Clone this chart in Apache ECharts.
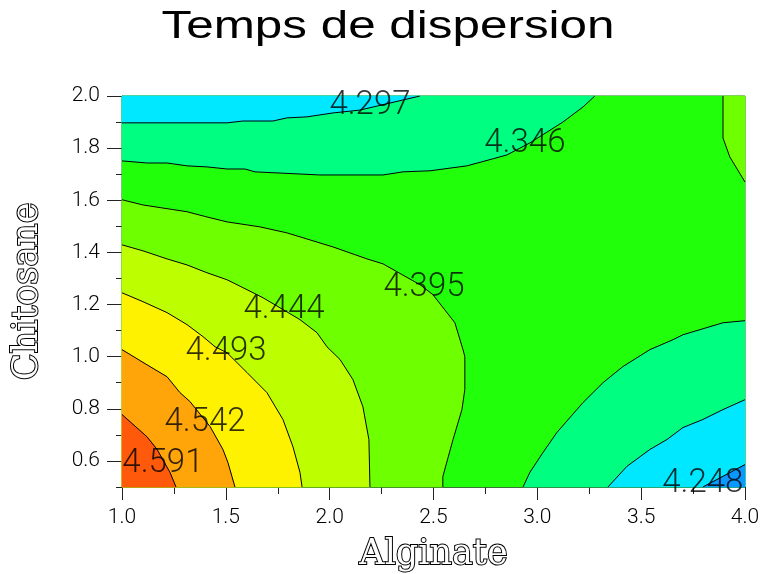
<!DOCTYPE html>
<html>
<head>
<meta charset="utf-8">
<script src="https://cdn.jsdelivr.net/npm/echarts@6/dist/echarts.min.js"></script>
<style>html,body{margin:0;padding:0;background:#fff}#c{width:766px;height:574px}</style>
</head>
<body>
<div id="c"></div>
<script>
// Axis ticks
const xTicks = [1.0, 1.5, 2.0, 2.5, 3.0, 3.5, 4.0];
const xMinorTicks = [1.25, 1.75, 2.25, 2.75, 3.25, 3.75];
const yTicks = [0.6, 0.8, 1.0, 1.2, 1.4, 1.6, 1.8, 2.0];
const yMinorTicks = [0.5, 0.7, 0.9, 1.1, 1.3, 1.5, 1.7, 1.9];

// Contour levels (labels)
const levels = ['4.248', '4.297', '4.346', '4.395', '4.444', '4.493', '4.542', '4.591'];

// Contour lines, [Alginate, Chitosane]
const c4297Top = [[1.0,1.897],[1.506,1.897],[1.583,1.904],[1.727,1.904],[1.794,1.916],[1.891,1.920],[2.016,1.935],[2.146,1.946],[2.435,2.0]];
const c4346Top = [[1.0,1.751],[1.120,1.743],[1.217,1.743],[1.313,1.732],[1.409,1.728],[1.506,1.720],[1.592,1.720],[1.640,1.709],[1.953,1.697],[2.257,1.697],[2.353,1.709],[2.483,1.713],[2.661,1.732],[2.786,1.759],[2.854,1.774],[2.964,1.820],[3.123,1.900],[3.220,1.958],[3.277,2.0]];
const c4395Right = [[3.894,2.0],[3.894,1.839],[3.927,1.766],[4.0,1.670]];
const c4395Main = [[1.0,1.602],[1.101,1.582],[1.313,1.556],[1.409,1.536],[1.506,1.517],[1.664,1.498],[1.794,1.475],[2.016,1.421],[2.180,1.375],[2.257,1.356],[2.435,1.276],[2.497,1.238],[2.603,1.130],[2.642,1.027],[2.651,1.000],[2.651,0.874],[2.637,0.797],[2.594,0.682],[2.545,0.540],[2.545,0.5]];
const c4444 = [[1.0,1.429],[1.101,1.406],[1.217,1.375],[1.313,1.352],[1.409,1.322],[1.506,1.295],[1.602,1.257],[1.679,1.226],[1.794,1.172],[1.857,1.142],[1.939,1.092],[1.987,1.038],[2.050,0.989],[2.112,0.912],[2.160,0.808],[2.189,0.682],[2.194,0.5]];
const c4493 = [[1.0,1.245],[1.101,1.211],[1.217,1.169],[1.313,1.123],[1.390,1.077],[1.448,1.038],[1.506,1.015],[1.602,0.939],[1.698,0.862],[1.775,0.759],[1.823,0.655],[1.857,0.556],[1.867,0.5]];
const c4542 = [[1.0,1.027],[1.120,0.969],[1.217,0.923],[1.279,0.862],[1.327,0.828],[1.424,0.732],[1.486,0.644],[1.510,0.594],[1.544,0.5]];
const c4591 = [[1.0,0.778],[1.120,0.693],[1.169,0.644],[1.231,0.556],[1.260,0.5]];
const c4346Low = [[4.0,1.138],[3.894,1.130],[3.701,1.084],[3.653,1.065],[3.542,1.027],[3.412,0.962],[3.316,0.900],[3.220,0.824],[3.094,0.709],[3.027,0.632],[2.964,0.556],[2.931,0.5]];
const c4297Low = [[4.0,0.835],[3.894,0.797],[3.797,0.759],[3.701,0.728],[3.624,0.682],[3.542,0.644],[3.431,0.579],[3.340,0.5]];
const c4248Low = [[4.0,0.586],[3.797,0.5]];

// Label anchors [Alginate, Chitosane, level]
const contourLabels = [[2.194,1.962,'4.297'],[2.940,1.816,'4.346'],[2.454,1.264,'4.395'],[1.780,1.180,'4.444'],[1.501,1.019,'4.493'],[1.400,0.747,'4.542'],[1.197,0.590,'4.591'],[3.797,0.513,'4.248']];

const X0 = 1.0, X1 = 4.0, Y0 = 0.5, Y1 = 2.0;
const col = {
  blue:'#0A98FF', cyan:'#00E8FF', spring:'#00FF80', green:'#22FF0A',
  yg:'#6EFF00', lyg:'#BDFF00', yellow:'#FFF200', orange:'#FFA50A', red:'#FF5A0C'
};
const layers = [
  {pts:[[X0,Y0],[X1,Y0],[X1,Y1],[X0,Y1]], color:col.green},
  {pts:c4395Main.concat([[X0,Y0]]), color:col.yg},
  {pts:c4444.concat([[X0,Y0]]), color:col.lyg},
  {pts:c4493.concat([[X0,Y0]]), color:col.yellow},
  {pts:c4542.concat([[X0,Y0]]), color:col.orange},
  {pts:c4591.concat([[X0,Y0]]), color:col.red},
  {pts:c4346Top.concat([[X0,Y1]]), color:col.spring},
  {pts:c4297Top.concat([[X0,Y1]]), color:col.cyan},
  {pts:c4395Right.concat([[X1,Y1]]), color:col.yg},
  {pts:c4346Low.concat([[X1,Y0]]), color:col.spring},
  {pts:c4297Low.concat([[X1,Y0]]), color:col.cyan},
  {pts:c4248Low.concat([[X1,Y0]]), color:col.blue}
];
const lines = [c4297Top, c4346Top, c4395Right, c4395Main, c4444, c4493, c4542, c4591, c4346Low, c4297Low, c4248Low];

const tickFont = {fontFamily:'Roboto', fontWeight:300, fontSize:21, color:'#000'};
const nameFont = {fontFamily:'DejaVu Serif', fontSize:35, color:'#fff', textBorderColor:'#000', textBorderWidth:2};

const chart = echarts.init(document.getElementById('c'), null, {renderer:'canvas'});
const series = [{
  type:'custom', silent:true, z:1,
  data: layers.map((l,i)=>[i]),
  renderItem:(params, api)=>{
    const L = layers[params.dataIndex];
    return {type:'polygon', shape:{points:L.pts.map(p=>api.coord(p))}, style:{fill:L.color, stroke:L.color, lineWidth:0.5}};
  }
}];
lines.forEach(d=>series.push({type:'line', data:d, symbol:'none', silent:true, z:3,
  lineStyle:{color:'#000', width:1}}));
series.push({type:'scatter', data:contourLabels, symbolSize:0, silent:true, z:5,
  label:{show:true, position:'inside', formatter:p=>p.value[2], fontFamily:'Roboto', fontWeight:300, fontSize:33, color:'#000'}});

chart.setOption({
  animation:false,
  graphic:[{type:'text', x:388, y:9, scaleX:1.3, z:10,
    style:{text:'Temps de dispersion', fontFamily:'Liberation Sans', fontSize:38, fill:'#000', textAlign:'center', textVerticalAlign:'top'}}],
  grid:{left:122, top:96, width:623, height:391, show:true, borderColor:'#555', borderWidth:1, backgroundColor:'transparent', outerBoundsMode:'none', containLabel:false},
  xAxis:[{type:'value', min:X0, max:X1, position:'bottom',
    name:'Alginate', nameLocation:'middle', nameGap:50, nameTextStyle:nameFont,
    axisLine:{show:true, lineStyle:{color:'#444', width:1}},
    axisTick:{show:true, length:13, customValues:xTicks, lineStyle:{color:'#222'}},
    axisLabel:{show:true, customValues:xTicks, margin:20, formatter:v=>v.toFixed(1), ...tickFont},
    splitLine:{show:false}},
   {type:'value', min:X0, max:X1, position:'bottom', gridIndex:0,
    axisLine:{show:false}, axisLabel:{show:false}, splitLine:{show:false},
    axisTick:{show:true, length:7, customValues:xMinorTicks, lineStyle:{color:'#222'}}}],
  yAxis:[{type:'value', min:Y0, max:Y1, position:'left',
    name:'Chitosane', nameLocation:'middle', nameGap:77, nameTextStyle:nameFont,
    axisLine:{show:true, lineStyle:{color:'#222', width:1}},
    axisTick:{show:true, length:15, customValues:yTicks, lineStyle:{color:'#222'}},
    axisLabel:{show:true, customValues:yTicks, margin:22, formatter:v=>v.toFixed(1), ...tickFont},
    splitLine:{show:false}},
   {type:'value', min:Y0, max:Y1, position:'left', gridIndex:0,
    axisLine:{show:false}, axisLabel:{show:false}, splitLine:{show:false},
    axisTick:{show:true, length:6, customValues:yMinorTicks, lineStyle:{color:'#222'}}}],
  series: series
});
</script>
</body>
</html>
